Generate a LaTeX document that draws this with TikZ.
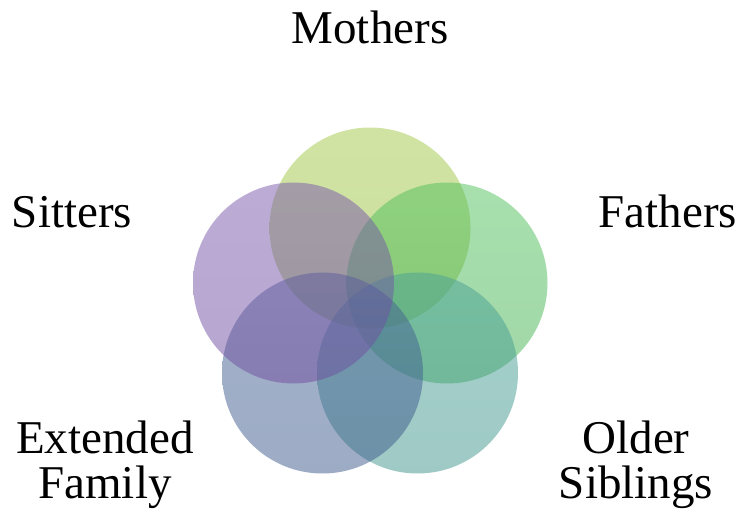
\documentclass[tikz,border=0pt]{standalone}
\usepackage{fontspec}
\setmainfont{Liberation Serif}
\begin{document}
\begin{tikzpicture}[x=1pt,y=1pt,
  ring/.style={circle, inner sep=0pt, minimum size=201pt, fill opacity=0.5, draw=none},
  lbl/.style={font=\fontsize{47}{45}\selectfont, inner sep=0pt, align=center, anchor=base, text=black}]
  \useasboundingbox (0,0) rectangle (741,517);
  % base colours of the five rings (drawn half transparent)
  \definecolor{mtop}{RGB}{162,200,72}\definecolor{mbot}{RGB}{150,190,62}
  \definecolor{ftop}{RGB}{80,192,92}\definecolor{fbot}{RGB}{68,176,80}
  \definecolor{otop}{RGB}{74,162,152}\definecolor{obot}{RGB}{62,148,138}
  \definecolor{etop}{RGB}{70,100,150}\definecolor{ebot}{RGB}{60,88,138}
  \definecolor{stop}{RGB}{122,88,172}\definecolor{sbot}{RGB}{110,78,160}
  % rings
  \node[ring, top color=mtop, bottom color=mbot] (mothers) at (370,289) {};
  \node[ring, top color=ftop, bottom color=fbot] (fathers) at (447,234) {};
  \node[ring, top color=otop, bottom color=obot] (older)   at (417.5,144) {};
  \node[ring, top color=etop, bottom color=ebot] (extended) at (322.5,144) {};
  \node[ring, top color=stop, bottom color=sbot] (sitters) at (293.5,234) {};
  % labels (base anchor sits on the last line)
  \node[lbl] (tm) at (370,473) {Mothers};
  \node[lbl] (tf) at (668,289) {Fathers};
  \node[lbl] (ts) at (72,289) {Sitters};
  \node[lbl] (te) at (105,19) {Extended\\Family};
  \node[lbl] (to) at (636,19) {Older\\Siblings};
\end{tikzpicture}
\end{document}
